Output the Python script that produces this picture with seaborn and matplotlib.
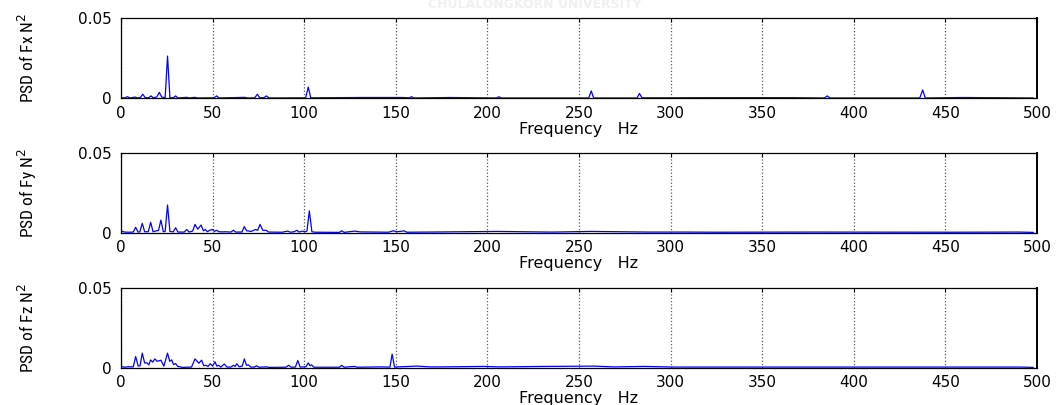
import matplotlib
matplotlib.use("Agg")
import matplotlib.pyplot as plt
from matplotlib import font_manager
import seaborn as sns

# Power spectral density of the three force components, (frequency Hz, PSD N^2)
fx_psd = [
    (0, 0.0004), (2, 0.0002), (3.5, 0.0010), (5, 0.0002), (7.6, 0.0008), (9, 0.0002),
    (10.5, 0.0005), (11.9, 0.0025), (13.2, 0.0004), (15, 0.0003), (16.4, 0.0015),
    (17.6, 0.0003), (19.5, 0.0008), (20.9, 0.0037), (22.2, 0.0008), (24.1, 0.0004),
    (25.4, 0.0264), (26.7, 0.0004), (28.5, 0.0003), (29.8, 0.0015), (31, 0.0002),
    (35.9, 0.0006), (37.5, 0.0002), (40.2, 0.0006), (42, 0.0002), (50.7, 0.0003),
    (52.2, 0.0015), (53.5, 0.0002), (67.4, 0.0006), (69, 0.0002), (73, 0.0003),
    (74.4, 0.0025), (75.8, 0.0003), (78, 0.0004), (79.4, 0.0015), (80.8, 0.0002),
    (100.8, 0.0003), (102.2, 0.0070), (103.6, 0.0003), (130.4, 0.0005), (153.8, 0.0005),
    (157.5, 0.0003), (158.6, 0.0010), (159.8, 0.0002), (179.6, 0.0005), (205, 0.0002),
    (206.2, 0.0010), (207.5, 0.0002), (255.3, 0.0002), (256.7, 0.0046), (258, 0.0002),
    (281.7, 0.0002), (283, 0.0030), (284.4, 0.0003), (339.7, 0.0004), (363.8, 0.0004),
    (384, 0.0002), (385.5, 0.0015), (387, 0.0002), (436, 0.0002), (437.6, 0.0052),
    (439, 0.0002), (459, 0.0005), (498, 0.0002),
]

fy_psd = [
    (0, 0.0010), (2, 0.0004), (4.5, 0.0003), (6.7, 0.0004), (8.0, 0.0034), (9.3, 0.0004),
    (10.3, 0.0005), (11.6, 0.0059), (12.9, 0.0006), (14.9, 0.0006), (16.2, 0.0065),
    (17.5, 0.0006), (20.5, 0.0015), (21.8, 0.0079), (23.1, 0.0006), (24.1, 0.0008),
    (25.4, 0.0173), (26.7, 0.0008), (28.5, 0.0005), (29.8, 0.0031), (31.1, 0.0004),
    (34.5, 0.0004), (35.9, 0.0020), (37.2, 0.0004), (39.1, 0.0010), (40.4, 0.0052),
    (41.9, 0.0022), (43.7, 0.0048), (45.0, 0.0012), (46.0, 0.0020), (47.2, 0.0006),
    (48.3, 0.0015), (50, 0.0020), (51, 0.0008), (52.2, 0.0015), (53.5, 0.0006),
    (55, 0.0005), (57, 0.0006), (60, 0.0004), (61.3, 0.0015), (62.6, 0.0004),
    (66, 0.0004), (67.3, 0.0038), (68.6, 0.0012), (71, 0.0008), (73.5, 0.0020),
    (74.6, 0.0015), (75.9, 0.0052), (77.4, 0.0015), (79.2, 0.0015), (80.6, 0.0004),
    (88, 0.0003), (90.9, 0.0010), (92.5, 0.0003), (94.5, 0.0006), (96.0, 0.0015),
    (97.2, 0.0004), (99, 0.0010), (100.5, 0.0006), (101.5, 0.0010), (102.8, 0.0136),
    (104.2, 0.0006), (106, 0.0003), (119.2, 0.0002), (120.5, 0.0012), (121.8, 0.0002),
    (127.5, 0.0010), (130.5, 0.0005), (146, 0.0003), (148.6, 0.0012), (150.5, 0.0006),
    (152.5, 0.0008), (154.5, 0.0012), (156, 0.0003), (168, 0.0004), (205.5, 0.0008),
    (233, 0.0004), (236.5, 0.0004), (256.5, 0.0008), (288, 0.0004), (308, 0.0004),
    (325, 0.0003), (378, 0.0004), (455, 0.0003), (490, 0.0004), (498, 0.0002),
]

fz_psd = [
    (0, 0.0008), (2, 0.0003), (4, 0.0006), (6.7, 0.0005), (8.0, 0.0070), (9.4, 0.0010),
    (10.4, 0.0012), (11.6, 0.0091), (12.9, 0.0030), (14.2, 0.0030), (15.2, 0.0018),
    (16.2, 0.0049), (17.3, 0.0035), (18.5, 0.0055), (19.8, 0.0040), (21.8, 0.0047),
    (23.4, 0.0010), (25.4, 0.0091), (26.6, 0.0040), (27.6, 0.0049), (28.7, 0.0020),
    (29.8, 0.0026), (31.0, 0.0008), (32.2, 0.0006), (33.5, 0.0002), (38.5, 0.0004),
    (40.4, 0.0055), (42.5, 0.0028), (44.0, 0.0047), (45.2, 0.0012), (46.3, 0.0015),
    (47.5, 0.0008), (48.7, 0.0025), (50, 0.0010), (51.3, 0.0037), (52.3, 0.0010),
    (53.3, 0.0015), (54.5, 0.0004), (56.4, 0.0023), (57.8, 0.0004), (60, 0.0004),
    (61.3, 0.0015), (62.3, 0.0008), (63.2, 0.0025), (64.5, 0.0006), (66.2, 0.0010),
    (67.3, 0.0055), (68.5, 0.0015), (69.5, 0.0018), (70.8, 0.0004), (72.8, 0.0004),
    (74, 0.0012), (75.3, 0.0003), (79.5, 0.0005), (81, 0.0002), (90, 0.0003),
    (91.5, 0.0015), (93, 0.0003), (95.2, 0.0004), (96.5, 0.0045), (97.8, 0.0004),
    (101, 0.0006), (102.2, 0.0030), (103.2, 0.0012), (104, 0.0018), (105.3, 0.0003),
    (119.2, 0.0003), (120.5, 0.0015), (121.8, 0.0003), (127.5, 0.0008), (129, 0.0003),
    (141, 0.0005), (146.8, 0.0004), (148, 0.0085), (149.3, 0.0004), (161.5, 0.0010),
    (168.5, 0.0005), (175, 0.0005), (198.5, 0.0008), (206.5, 0.0005), (231.5, 0.0008),
    (258, 0.0010), (269, 0.0005), (285.5, 0.0008), (302, 0.0004), (322, 0.0004),
    (332.5, 0.0004), (365, 0.0004), (378.5, 0.0004), (384, 0.0004), (394, 0.0004),
    (408.5, 0.0004), (436, 0.0004), (451, 0.0004), (469, 0.0004), (483.5, 0.0004),
    (491, 0.0004), (498, 0.0002),
]

panel_series = [fx_psd, fy_psd, fz_psd]
ylabels = ["PSD of Fx N$^2$", "PSD of Fy N$^2$", "PSD of Fz N$^2$"]
xlabel = "Frequency   Hz"
xticks = list(range(0, 501, 50))
yticks = [0, 0.05]
yticklabels = ["0", "0.05"]

sns.set_style("white")
plt.rcParams["font.family"] = ["DejaVu Sans"]

# a condensed face for the vertical labels, if one is available
installed = {f.name for f in font_manager.fontManager.ttflist}
narrow = [n for n in ["Liberation Sans Narrow", "Roboto Condensed", "Liberation Sans"]
          if n in installed] + ["DejaVu Sans"]
narrow_size = 12.5 if narrow[0] in ("Liberation Sans Narrow", "Roboto Condensed") else 11

fig = plt.figure(figsize=(10.61, 4.05), dpi=100)

# faint banner along the top edge
fig.text(0.504, 1 - 8 / 405, "CHULALONGKORN UNIVERSITY", color="#f0f0f0",
         fontsize=9, fontweight="bold", ha="center", va="baseline")

left, width = 121 / 1061, 916 / 1061
tops = [18.3, 152.7, 287.7]
height_px = 80

for series, ylab, top in zip(panel_series, ylabels, tops):
    ax = fig.add_axes([left, 1 - (top + height_px) / 405, width, height_px / 405])
    freqs = [f for f, _ in series]
    vals = [v for _, v in series]
    sns.lineplot(x=freqs, y=vals, ax=ax, color="blue", linewidth=0.9,
                 estimator=None, sort=False)
    ax.set_xlim(0, 500)
    ax.set_ylim(0, 0.05)
    ax.set_xticks(xticks)
    ax.set_xticklabels([str(t) for t in xticks])
    ax.set_yticks(yticks)
    ax.set_yticklabels(yticklabels)
    ax.grid(True, axis="x", color="0.35", linestyle=":", linewidth=0.9)
    ax.grid(False, axis="y")
    for side, sp in ax.spines.items():
        sp.set_visible(True)
        sp.set_color("black")
        sp.set_linewidth(0.9)
    ax.spines["right"].set_linewidth(1.4)
    ax.tick_params(axis="both", direction="in", length=3, width=0.8, color="black",
                   top=True, right=True, labelsize=11, labelcolor="black")
    ax.tick_params(axis="x", pad=5.5)
    ax.tick_params(axis="y", pad=7)
    ax.set_xlabel(xlabel, fontsize=11.5, color="black")
    ax.xaxis.set_label_coords(0.5, -0.39)
    ax.xaxis.label.set_va("center")
    ax.set_ylabel(ylab, fontsize=narrow_size, color="black", family=narrow)
    ax.yaxis.set_label_coords(-0.1026, 0.5)
    ax.yaxis.label.set_va("center")

fig.savefig("out.png", dpi=100)
